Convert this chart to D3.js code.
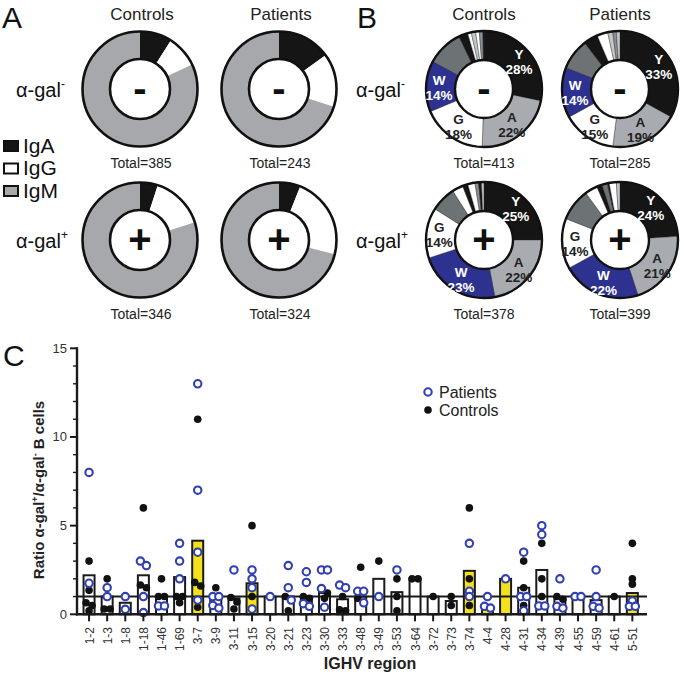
<!DOCTYPE html>
<html><head><meta charset="utf-8">
<script src="https://cdn.jsdelivr.net/npm/d3@7"></script>
<style>
body{margin:0;background:#fff;}
svg{display:block;font-family:"Liberation Sans",Arial,Helvetica,sans-serif;}
</style></head>
<body>
<svg id="chart" width="685" height="676"></svg>
<script>
// ---------- DATA ----------
// Panel A: isotype composition (%), order IgA, IgG, IgM
const isotypes = ["IgA", "IgG", "IgM"];
const aControlsNeg = [9, 9, 82];
const aPatientsNeg = [15, 15, 70];
const aControlsPos = [5, 15, 80];
const aPatientsPos = [6, 23, 71];
const aTotals = ["Total=385", "Total=243", "Total=346", "Total=324"];

// Panel B: IGHV family composition (%); keys: Y,A,G,W labelled, others small
const bCtrlNegKeys = ["Y","A","G","W","dg","k","w","l","w","g","k"];
const bCtrlNegVals = [28, 22, 18, 14, 10, 2.5, 1, 1.2, 1, 1, 0.3];
const bPatNegKeys  = ["Y","A","G","W","dg","k","w","l","g","l"];
const bPatNegVals  = [33, 19, 15, 14, 8.6, 4, 3, 1.4, 1, 1];
const bCtrlPosKeys = ["Y","A","W","G","dg","w","k","w","g","k","l"];
const bCtrlPosVals = [25, 22, 23, 14, 7, 3, 1.5, 2, 1, 0.8, 0.7];
const bPatPosKeys  = ["Y","A","W","G","dg","w","k","dg","k","w","l"];
const bPatPosVals  = [24, 21, 22, 14, 9, 3.5, 1.5, 1.5, 0.5, 2, 1];
const bTotals = ["Total=413", "Total=285", "Total=378", "Total=399"];

// Panel C
const ighvRegions = ["1-2","1-3","1-8","1-18","1-46","1-69","3-7","3-9","3-11","3-15","3-20","3-21","3-23","3-30","3-33","3-48","3-49","3-53","3-64","3-72","3-73","3-74","4-4","4-28","4-31","4-34","4-39","4-55","4-59","4-61","5-51"];
const barValues = [2.2,1.0,0.65,2.2,1.0,2.1,4.15,0.9,0.9,1.75,1.0,1.0,1.0,1.2,0.85,1.0,2.0,1.25,2.0,1.0,0.75,2.45,0.45,2.0,1.5,2.5,0.9,1.0,0.8,1.0,1.2];
const barHighlight = ["3-7","3-15","3-74","4-4","4-28","5-51"];
const patientsValues = [
  [8,1.75],[1.5,1.0],[1.0,0.28],[3.0,2.75,1.0,0.1],[0.47,0.47],[4.0,3.0,2.0],
  [13,7,3.5,0.8],[1.0,1.0,0.5,0.35],[2.5],[2.5,2.0,1.5,0.3],[1.0],[2.75,1.5,0.8],
  [2.4,1.8,0.6,0.45],[2.5,2.5,1.45,0.4],[1.65,1.5],[1.3,1.3,0.65],[1.0],[2.5],
  [],[],[],[4.0,1.3,1.0],[1.0,0.45,0.35],[2.0],[3.5,1.0,1.0,0.2],[5.0,4.5,0.47,0.47],
  [2.0,0.45,0.35],[1.0,1.0],[2.5,1.0,0.45,0.35],[],[0.75,0.45,0.45]
];
const controlsValues = [
  [3.0,1.35,0.65,0.5,0.2],[2.0,0.3,0.3],[],[6.0,1.65,1.5],[2.0,1.0,1.0],[1.0,1.0,0.65],
  [11,1.8,1.6,0.4],[1.5],[0.95,0.7,0.3],[5.0,1.0],[],[1.0,0.2],
  [1.0,0.9],[1.2,0.9],[1.0,0.25,0.2],[2.65,0.9],[3.0],[2.0,1.0,0.2],
  [2.0,2.0],[1.0],[1.0,0.5],[6.0,2.0,0.5],[],[],[3.0,1.5,0.5],[4.0,2.0,1.0],
  [1.0,0.85],[],[],[1.0],[4.0,2.0,1.7]
];
const yTicksMajor = [0, 5, 10, 15];

// ---------- DRAWING ----------
const svg = d3.select("#chart");

function panelLetter(t, x, y){
  svg.append("text").attr("x", x).attr("y", y).attr("font-size", 30).attr("fill", "#111").text(t);
}
function agalLabel(x, y, sign){
  const t = svg.append("text").attr("x", x).attr("y", y).attr("font-size", 20).attr("fill", "#111");
  t.append("tspan").text("α-gal");
  t.append("tspan").attr("font-size", 12).attr("dy", -9).text(sign === "+" ? "+" : "-");
}

// Panel A
const aColors = {IgA: "#151515", IgG: "#ffffff", IgM: "#a6a8ab"};
const aCx = [140, 279], aCy = [89, 240];
const aRo = 57.5, aRi = 30;
const aData = [aControlsNeg, aPatientsNeg, aControlsPos, aPatientsPos];
const pie = d3.pie().sort(null).value(d => d.v);
aData.forEach((vals, i) => {
  const cx = aCx[i % 2], cy = aCy[Math.floor(i / 2)];
  const g = svg.append("g").attr("transform", `translate(${cx},${cy})`);
  const arcs = pie(vals.map((v, k) => ({k: isotypes[k], v})));
  const arc = d3.arc().innerRadius(aRi).outerRadius(aRo);
  g.selectAll("path").data(arcs).join("path").attr("d", arc).attr("fill", d => aColors[d.data.k]);
  g.append("circle").attr("r", aRo).attr("fill", "none").attr("stroke", "#111").attr("stroke-width", 2.6);
  g.append("circle").attr("r", aRi).attr("fill", "#fff").attr("stroke", "#111").attr("stroke-width", 2.6);
  const sign = i < 2 ? "-" : "+";
  g.append("text").attr("text-anchor", "middle").attr("y", sign === "-" ? 13 : 13)
    .attr("font-size", sign === "-" ? 40 : 40).attr("font-weight", "bold").attr("fill", "#111").text(sign);
  svg.append("text").attr("x", cx + 1).attr("y", cy + 79).attr("text-anchor", "middle")
    .attr("font-size", 14).attr("fill", "#222").text(aTotals[i]);
});
["Controls", "Patients"].forEach((t, i) => {
  svg.append("text").attr("x", aCx[i] + 2).attr("y", 20).attr("text-anchor", "middle").attr("font-size", 17).attr("fill", "#222").text(t);
});
panelLetter("A", 2, 28);
agalLabel(16, 97, "-");
agalLabel(16, 248, "+");
// legend
isotypes.forEach((k, i) => {
  const y = 141 + i * 22.5;
  svg.append("rect").attr("x", 4).attr("y", y).attr("width", 14).attr("height", 10)
    .attr("fill", aColors[k]).attr("stroke", "#111").attr("stroke-width", 2);
  svg.append("text").attr("x", 23).attr("y", y + 11.5).attr("font-size", 21).attr("fill", "#111").text(k);
});

// Panel B
const bColors = {Y: "#151515", A: "#a8acb1", G: "#ffffff", W: "#2d3190", dg: "#6d7275", k: "#151515", w: "#ffffff", l: "#c4c7ca", g: "#8a8e92"};
const bTextColor = {Y: "#fff", W: "#fff", A: "#222", G: "#222"};
const bCx = [484, 620], bCy = [89, 240];
const bRo = 58, bRi = 29;
const bSets = [[bCtrlNegKeys, bCtrlNegVals], [bPatNegKeys, bPatNegVals], [bCtrlPosKeys, bCtrlPosVals], [bPatPosKeys, bPatPosVals]];
bSets.forEach(([keys, vals], i) => {
  const cx = bCx[i % 2], cy = bCy[Math.floor(i / 2)];
  const g = svg.append("g").attr("transform", `translate(${cx},${cy})`);
  const arcs = pie(vals.map((v, k) => ({k: keys[k], v})));
  const arc = d3.arc().innerRadius(bRi).outerRadius(bRo);
  g.selectAll("path").data(arcs).join("path").attr("d", arc).attr("fill", d => bColors[d.data.k])
    .attr("stroke", "#222").attr("stroke-width", 0.4);
  g.append("circle").attr("r", bRo).attr("fill", "none").attr("stroke", "#111").attr("stroke-width", 2.4);
  g.append("circle").attr("r", bRi).attr("fill", "#fff").attr("stroke", "#111").attr("stroke-width", 2.4);
  const sign = i < 2 ? "-" : "+";
  g.append("text").attr("text-anchor", "middle").attr("y", 13)
    .attr("font-size", 40).attr("font-weight", "bold").attr("fill", "#111").text(sign);
  const lab = d3.arc().innerRadius(45).outerRadius(45);
  arcs.filter(d => ["Y", "A", "G", "W"].includes(d.data.k)).forEach(d => {
    const [x, y] = lab.centroid(d);
    const t = g.append("text").attr("text-anchor", "middle").attr("font-size", 13.5).attr("font-weight", "bold")
      .attr("fill", bTextColor[d.data.k]);
    t.append("tspan").attr("x", x).attr("y", y - 2).text(d.data.k);
    t.append("tspan").attr("x", x).attr("y", y + 13).text(d.data.v + "%");
  });
  svg.append("text").attr("x", cx).attr("y", cy + 79).attr("text-anchor", "middle")
    .attr("font-size", 14).attr("fill", "#222").text(bTotals[i]);
});
["Controls", "Patients"].forEach((t, i) => {
  svg.append("text").attr("x", bCx[i]).attr("y", 20).attr("text-anchor", "middle").attr("font-size", 17).attr("fill", "#222").text(t);
});
panelLetter("B", 357, 28);
agalLabel(356, 97, "-");
agalLabel(356, 248, "+");

// Panel C
const x = d3.scaleBand().domain(ighvRegions).range([80, 641.4]).paddingInner(0.4).paddingOuter(0.2);
const y = d3.scaleLinear().domain([0, 15]).range([614.3, 348.3]);
const gC = svg.append("g");
const bw = 11;
gC.selectAll("rect.bar").data(ighvRegions).join("rect").attr("class", "bar")
  .attr("x", d => x(d) + x.bandwidth() / 2 - bw / 2)
  .attr("y", (d, i) => y(barValues[i]))
  .attr("width", bw)
  .attr("height", (d, i) => y(0) - y(barValues[i]))
  .attr("fill", d => barHighlight.includes(d) ? "#f3e21b" : "#fff")
  .attr("stroke", "#1a1a1a").attr("stroke-width", 2);
gC.append("line").attr("x1", 77).attr("x2", 647).attr("y1", y(1)).attr("y2", y(1))
  .attr("stroke", "#1a1a1a").attr("stroke-width", 2);

const allPts = [];
ighvRegions.forEach((cat, i) => {
  const pts = patientsValues[i].map(v => ({v, kind: "P", cat}))
    .concat(controlsValues[i].map(v => ({v, kind: "C", cat})));
  pts.sort((a, b) => b.v - a.v);
  const clusters = [];
  pts.forEach(p => {
    const c = clusters.find(cl => Math.abs(y(cl[0].v) - y(p.v)) < 4.5);
    if (c) c.push(p); else clusters.push([p]);
  });
  clusters.forEach(cl => {
    cl.forEach((p, j) => { p.dx = (j - (cl.length - 1) / 2) * 6; allPts.push(p); });
  });
});
const cx0 = d => x(d.cat) + x.bandwidth() / 2 + d.dx;
gC.selectAll("circle.ctl").data(allPts.filter(p => p.kind === "C")).join("circle").attr("class", "ctl")
  .attr("cx", cx0).attr("cy", d => y(d.v)).attr("r", 3.8).attr("fill", "#111");
gC.selectAll("circle.pat").data(allPts.filter(p => p.kind === "P")).join("circle").attr("class", "pat")
  .attr("cx", cx0).attr("cy", d => y(d.v)).attr("r", 3.7).attr("fill", "#fff")
  .attr("stroke", "#3040b0").attr("stroke-width", 2.1);

// axes
gC.append("line").attr("x1", 77).attr("x2", 77).attr("y1", y(15) - 1).attr("y2", y(0) + 1.2).attr("stroke", "#1a1a1a").attr("stroke-width", 2.4);
gC.append("line").attr("x1", 76).attr("x2", 647).attr("y1", y(0)).attr("y2", y(0)).attr("stroke", "#1a1a1a").attr("stroke-width", 2.4);
d3.range(0, 16).forEach(v => {
  const major = yTicksMajor.includes(v);
  gC.append("line").attr("x1", 77).attr("x2", 77 - (major ? 7 : 4)).attr("y1", y(v)).attr("y2", y(v))
    .attr("stroke", "#1a1a1a").attr("stroke-width", major ? 2 : 1.4);
});
yTicksMajor.forEach(v => {
  gC.append("text").attr("x", 67).attr("y", y(v) + 4.5).attr("text-anchor", "end").attr("font-size", 13).attr("fill", "#333").text(v);
});
ighvRegions.forEach(cat => {
  const cx = x(cat) + x.bandwidth() / 2;
  gC.append("line").attr("x1", cx).attr("x2", cx).attr("y1", y(0)).attr("y2", y(0) + 7).attr("stroke", "#1a1a1a").attr("stroke-width", 2);
  gC.append("text").attr("transform", `translate(${cx + 4.5},${627}) rotate(-90)`).attr("text-anchor", "end")
    .attr("font-size", 12).attr("fill", "#333").text(cat);
});
svg.append("text").attr("x", 370).attr("y", 669).attr("text-anchor", "middle").attr("font-size", 16)
  .attr("font-weight", "bold").attr("fill", "#222").text("IGHV region");
const yl = svg.append("text").attr("transform", "translate(44,490) rotate(-90)").attr("text-anchor", "middle")
  .attr("font-size", 15).attr("font-weight", "bold").attr("fill", "#222");
yl.append("tspan").text("Ratio α-gal");
yl.append("tspan").attr("font-size", 9).attr("dy", -6).text("+");
yl.append("tspan").attr("dy", 6).text("/α-gal");
yl.append("tspan").attr("font-size", 9).attr("dy", -6).text("-");
yl.append("tspan").attr("dy", 6).text(" B cells");
panelLetter("C", 3, 366);
svg.append("circle").attr("cx", 428).attr("cy", 392).attr("r", 3.7).attr("fill", "#fff").attr("stroke", "#3040b0").attr("stroke-width", 2.1);
svg.append("text").attr("x", 439).attr("y", 397.5).attr("font-size", 16).attr("fill", "#222").text("Patients");
svg.append("circle").attr("cx", 428).attr("cy", 410).attr("r", 3.8).attr("fill", "#111");
svg.append("text").attr("x", 439).attr("y", 415.5).attr("font-size", 16).attr("fill", "#222").text("Controls");
</script>
</body></html>
